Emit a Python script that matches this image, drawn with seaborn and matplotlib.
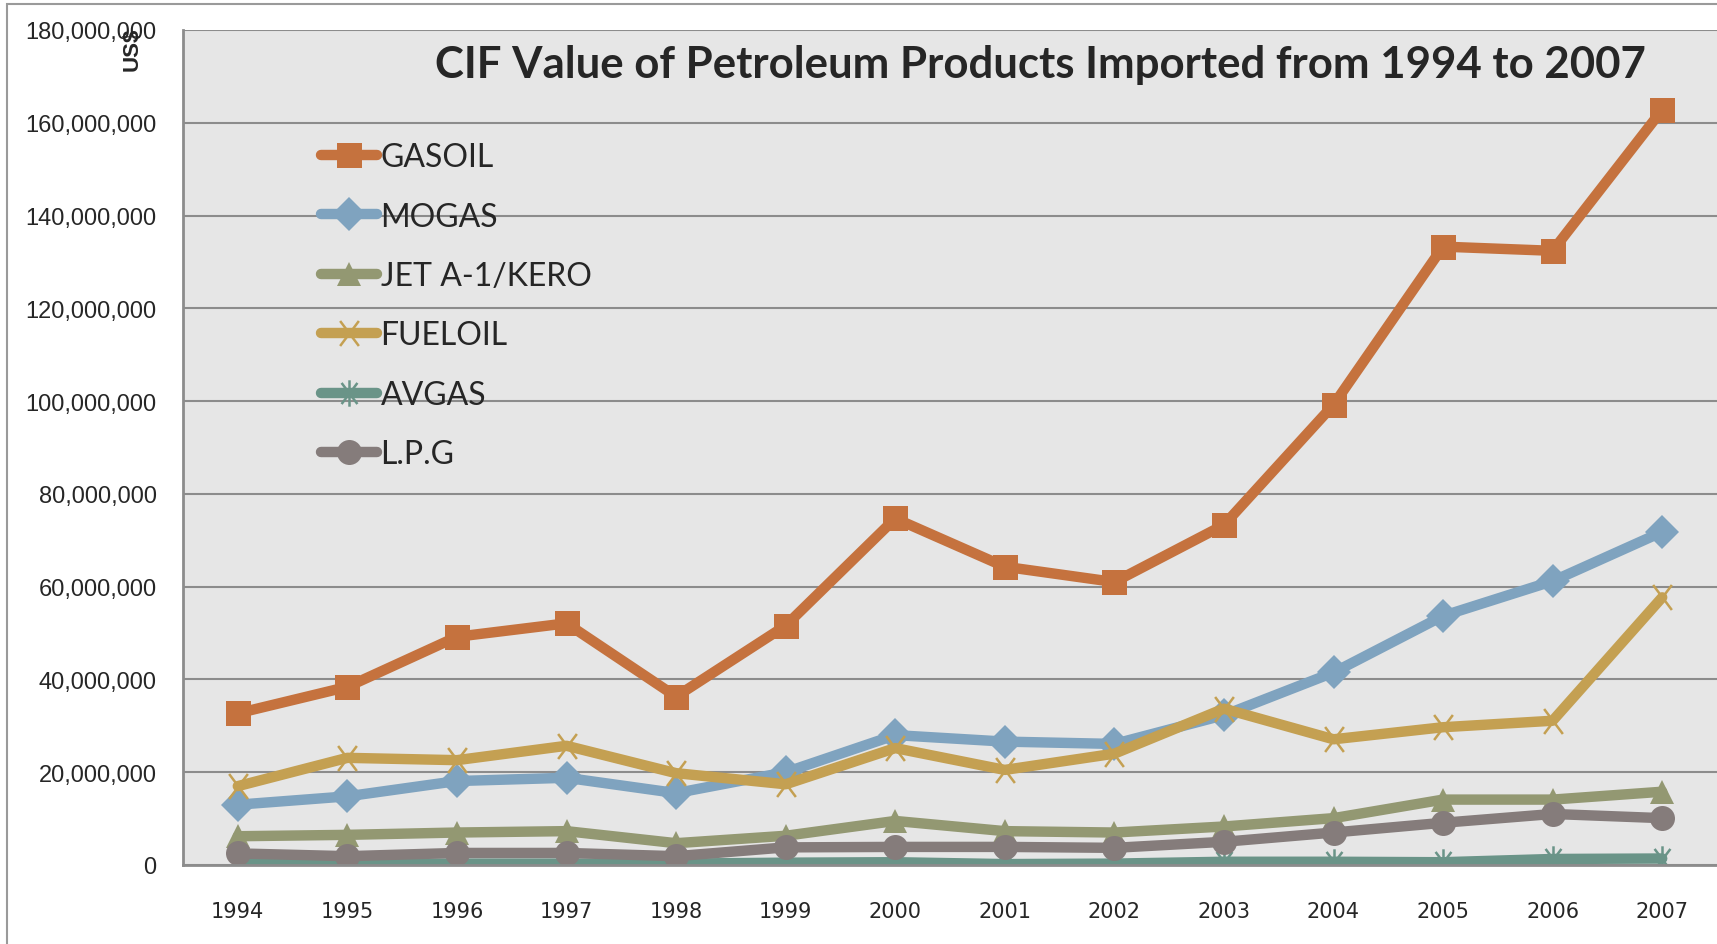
import pandas as pd
import matplotlib
matplotlib.use("Agg")
import matplotlib.pyplot as plt
import seaborn as sns
from matplotlib.patches import Rectangle
from matplotlib.path import Path
from matplotlib.ticker import FuncFormatter

# Data (US$)
years = [1994, 1995, 1996, 1997, 1998, 1999, 2000, 2001, 2002, 2003, 2004, 2005, 2006, 2007]
gasoil = [32.7, 38.4, 49.2, 52.1, 36.3, 51.6, 74.7, 64.3, 61.0, 73.3, 99.2, 133.3, 132.4, 162.8]
mogas = [13.0, 14.8, 18.1, 18.8, 15.5, 20.0, 28.0, 26.6, 26.1, 32.3, 41.5, 53.7, 61.2, 71.8]
jet = [6.2, 6.5, 7.0, 7.3, 4.7, 6.3, 9.5, 7.3, 7.0, 8.3, 10.1, 14.1, 14.1, 15.8]
fueloil = [17.0, 23.1, 22.6, 25.7, 19.8, 17.4, 25.2, 20.5, 24.0, 33.7, 27.1, 29.7, 31.1, 57.7]
avgas = [0.4, 0.3, 0.3, 0.3, 0.3, 0.5, 0.6, 0.2, 0.3, 0.7, 0.7, 0.6, 1.3, 1.4]
lpg = [2.5, 1.9, 2.6, 2.6, 1.9, 3.8, 3.9, 3.9, 3.7, 5.0, 7.0, 9.1, 11.0, 10.1]

products = ["GASOIL", "MOGAS", "JET A-1/KERO", "FUELOIL", "AVGAS", "L.P.G"]
values = [gasoil, mogas, jet, fueloil, avgas, lpg]
colors = ["#C5723E", "#7FA3BF", "#939872", "#C4A052", "#6A9488", "#857C7B"]

# excel-style star: an X plus a vertical stroke
star = Path([(0, -1), (0, 1), (-0.6, -0.8), (0.6, 0.8), (-0.6, 0.8), (0.6, -0.8)],
            [Path.MOVETO, Path.LINETO, Path.MOVETO, Path.LINETO, Path.MOVETO, Path.LINETO])
xmark = Path([(-0.75, -1), (0.75, 1), (-0.75, 1), (0.75, -1)],
             [Path.MOVETO, Path.LINETO, Path.MOVETO, Path.LINETO])
markers = ["s", "D", "^", xmark, star, "o"]
msizes = [18, 17, 17, 18, 19, 18]
line_art = [False, False, False, True, True, False]

rows = []
for name, vals in zip(products, values):
    for y, v in zip(years, vals):
        rows.append({"year": y, "product": name, "value": v * 1e6})
df = pd.DataFrame(rows)

sns.set_style("white")
plt.rcParams["font.family"] = ["Lato", "DejaVu Sans"]

fig = plt.figure(figsize=(17.17, 9.45), dpi=100)
ax = fig.add_axes([183 / 1717, (945 - 866) / 945, (1717 - 183) / 1717, (866 - 31) / 945])
ax.set_facecolor("#E6E6E6")

for name, c, m, ms, la in zip(products, colors, markers, msizes, line_art):
    sub = df[df["product"] == name]
    sns.lineplot(data=sub, x="year", y="value", ax=ax, color=c, marker=m,
                 markersize=ms, markeredgecolor=c, markerfacecolor="none" if la else c,
                 markeredgewidth=1.8 if la else 0,
                 linewidth=7.5, label=name, solid_capstyle="round")

ax.set_xlim(1993.5, 2007.5)
ax.set_ylim(0, 180e6)
ax.set_yticks(range(0, 180000001, 20000000))
ax.yaxis.set_major_formatter(FuncFormatter(lambda v, p: f"{int(v):,}"))
ax.set_xticks(years)
ax.set_xticklabels([str(y) for y in years], family="Liberation Sans Narrow", fontsize=15)
for lbl in ax.get_yticklabels():
    lbl.set_family("Liberation Sans")
    lbl.set_fontsize(17)
ax.tick_params(axis="y", length=0, pad=19)
ax.tick_params(axis="x", length=0, pad=26)
ax.set_xlabel("")
ax.set_ylabel("")

ax.grid(axis="y", color="#8C8C8C", linewidth=1.5)
ax.set_axisbelow(True)
for s in ["top", "right"]:
    ax.spines[s].set_visible(False)
for s in ["left", "bottom"]:
    ax.spines[s].set_color("#8C8C8C")
    ax.spines[s].set_linewidth(2)

leg = ax.legend(loc="upper left", bbox_to_anchor=(0.0715, 0.9), frameon=False,
                fontsize=23, handlelength=1.75, handletextpad=0.1, labelspacing=0.92)

fig.text(1040 / 1717, 1 - 65 / 945, "CIF Value of Petroleum Products Imported from 1994 to 2007",
         ha="center", va="center", fontsize=31.5, fontweight="bold")
fig.text(132 / 1717, 1 - 49 / 945, "US$", rotation=90, ha="center", va="center",
         fontsize=16, fontweight="bold", family="Liberation Sans")

fig.patches.append(Rectangle((7 / 1717, -0.1), 1.2, (945 - 5) / 945 + 0.1, transform=fig.transFigure,
                             fill=False, edgecolor="#9A9A9A", linewidth=1.5))

fig.savefig("out.png", dpi=100)
